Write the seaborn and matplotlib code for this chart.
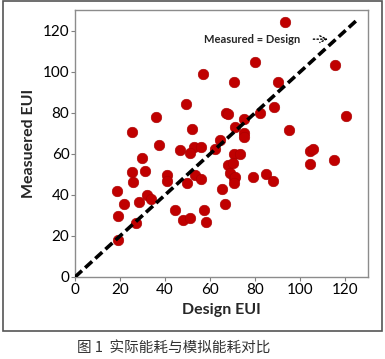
import numpy as np
import pandas as pd
import seaborn as sns
import matplotlib.pyplot as plt
from matplotlib.patches import Rectangle

# values
design_eui = [93.2, 80.0, 115.3, 57.0, 70.7, 90.2, 49.1, 88.2, 35.8, 66.8,
              68.1, 82.0, 120.4, 75.2, 71.1, 52.1, 94.8, 25.1, 75.2, 75.2,
              64.3, 37.3, 52.6, 55.9, 46.4, 51.1, 62.3, 29.6, 70.5, 73.3,
              104.4, 105.5, 114.9, 104.2, 25.5, 31.2, 25.9, 41.0, 41.0, 49.6,
              53.3, 55.9, 68.1, 70.0, 68.6, 70.4, 71.1, 70.4, 79.1, 84.9,
              87.7, 18.5, 32.0, 33.8, 21.9, 28.5, 65.4, 66.4, 44.4, 57.1,
              19.0, 47.9, 51.1, 58.3, 27.2, 19.2]
measured_eui = [124.2, 104.5, 103.4, 99.0, 95.0, 95.0, 84.2, 82.9, 77.9, 80.0,
                79.4, 79.8, 78.6, 77.0, 72.9, 72.2, 71.7, 70.8, 69.9, 68.2,
                66.8, 64.4, 63.3, 63.5, 62.0, 60.5, 62.4, 57.9, 59.8, 59.8,
                61.5, 62.2, 56.9, 55.1, 51.0, 51.6, 46.4, 49.5, 46.6, 45.7,
                49.5, 47.9, 54.6, 55.4, 50.5, 48.1, 48.9, 45.6, 48.5, 50.2,
                46.5, 42.0, 39.7, 37.9, 35.5, 36.4, 43.0, 35.4, 32.5, 32.4,
                29.8, 27.7, 28.5, 26.9, 26.1, 17.9]
ticks = [0, 20, 40, 60, 80, 100, 120]
line_end = 125

sns.set_theme(style="ticks")
plt.rcParams["font.family"] = ["Lato", "DejaVu Sans"]

df = pd.DataFrame({"design": design_eui, "measured": measured_eui})
diag = pd.DataFrame({"x": [0, line_end], "y": [0, line_end]})

fig = plt.figure(figsize=(3.85, 3.59), dpi=100)
ax = fig.add_axes([75 / 385, 1 - 277 / 359, 293 / 385, 267 / 359])

sns.scatterplot(data=df, x="design", y="measured", ax=ax, s=58,
                color="#C00000", edgecolor="#A80000", linewidth=0.4, zorder=3)
ax.plot(diag["x"], diag["y"], color="black", lw=2.6, dashes=(2.6, 1.2), zorder=4)

ax.annotate("Measured = Design", xy=(57.3, 115.6), fontsize=8, fontweight="bold",
            va="center", ha="left")
ax.annotate("", xy=(113.5, 115.8), xytext=(104.5, 115.8),
            arrowprops=dict(arrowstyle="->", linestyle=":", lw=1.0, color="black"))

ax.set_xlim(0, 130)
ax.set_ylim(0, 130)
ax.set_xticks(ticks)
ax.set_yticks(ticks)
ax.tick_params(length=3, width=0.8, color="#808080", labelsize=11, pad=1,
               labelcolor="black")
for sp in ax.spines.values():
    sp.set_color("#8c8c8c")
    sp.set_linewidth(1.0)

ax.set_xlabel("Design EUI", fontsize=11.5, fontweight="bold", va="center")
ax.set_ylabel("Measuered EUI", fontsize=11.5, fontweight="bold", va="center")
ax.xaxis.set_label_coords(0.5, (277 - 310) / 267)
ax.yaxis.set_label_coords(-(75 - 29) / 293, 0.5)

# outer frame around the chart
fig.patches.append(Rectangle((3 / 385, 1 - 331 / 359), 379 / 385, 330 / 359,
                             transform=fig.transFigure, fill=False,
                             edgecolor="#555555", lw=1.2))

fig.text(174 / 385, 1 - 349 / 359, "图 1  实际能耗与模拟能耗对比", ha="center",
         va="center", fontsize=10.5, color="#333333",
         family=["Noto Sans CJK SC", "DejaVu Sans"])

fig.savefig("out.png", dpi=100)
